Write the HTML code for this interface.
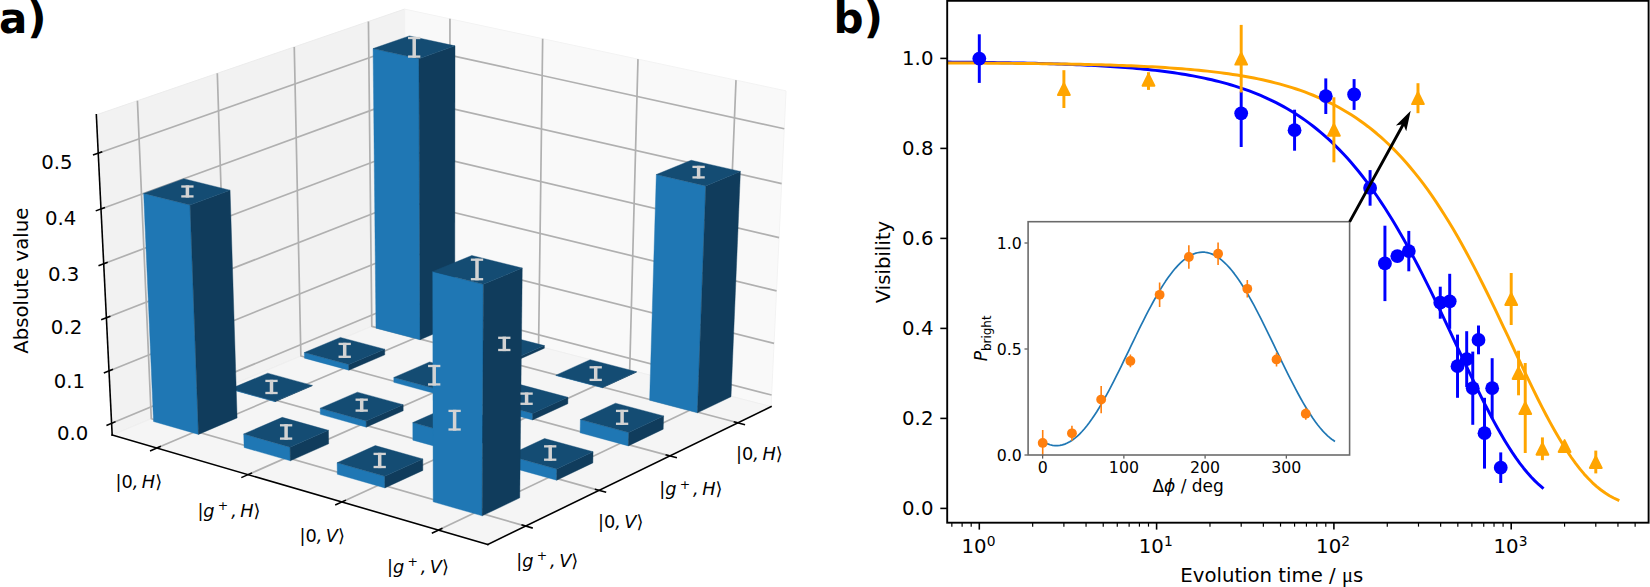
<!DOCTYPE html>
<html><head><meta charset="utf-8"><title>Figure</title>
<style>html,body{margin:0;padding:0;background:#fff}svg{display:block}text{font-family:"DejaVu Sans","Liberation Sans",sans-serif;fill:#000}</style>
</head><body>
<svg width="1650" height="587" viewBox="0 0 1650 587">
<rect width="1650" height="587" fill="#fff"/>
<g id="panel-a">
<polygon points="112.18,435.08 406.35,311.88 404.54,9.1 96.33,114.83" fill="#f2f2f2" stroke="#ececec" stroke-width="1" stroke-linejoin="round" />
<polygon points="406.35,311.88 771.05,406.63 786.07,90.88 404.54,9.1" fill="#f9f9f9" stroke="#f3f3f3" stroke-width="1" stroke-linejoin="round" />
<polygon points="112.18,435.08 487.87,544.47 771.05,406.63 406.35,311.88" fill="#f5f5f5" stroke="#efefef" stroke-width="1" stroke-linejoin="round" />
<polyline points="156.84,448.08 449.85,323.18 449.95,18.84" fill="none" stroke="#b0b0b0" stroke-width="1.7" stroke-linejoin="round"/>
<polyline points="248.05,474.64 538.58,346.24 542.67,38.71" fill="none" stroke="#b0b0b0" stroke-width="1.7" stroke-linejoin="round"/>
<polyline points="341.9,501.96 629.7,369.91 637.98,59.14" fill="none" stroke="#b0b0b0" stroke-width="1.7" stroke-linejoin="round"/>
<polyline points="438.5,530.09 723.29,394.22 736.01,80.15" fill="none" stroke="#b0b0b0" stroke-width="1.7" stroke-linejoin="round"/>
<polyline points="525.66,526.08 151.29,418.7 137.42,100.74" fill="none" stroke="#b0b0b0" stroke-width="1.7" stroke-linejoin="round"/>
<polyline points="599.08,490.34 227.42,386.82 217.31,73.33" fill="none" stroke="#b0b0b0" stroke-width="1.7" stroke-linejoin="round"/>
<polyline points="669.78,455.92 300.88,356.05 294.26,46.93" fill="none" stroke="#b0b0b0" stroke-width="1.7" stroke-linejoin="round"/>
<polyline points="737.91,422.76 371.8,326.35 368.44,21.48" fill="none" stroke="#b0b0b0" stroke-width="1.7" stroke-linejoin="round"/>
<polyline points="111.6,423.29 406.28,300.7 771.61,394.99" fill="none" stroke="#b0b0b0" stroke-width="1.7" stroke-linejoin="round"/>
<polyline points="109.01,370.95 405.99,251.09 774.06,343.35" fill="none" stroke="#b0b0b0" stroke-width="1.7" stroke-linejoin="round"/>
<polyline points="106.37,317.79 405.69,200.76 776.56,290.93" fill="none" stroke="#b0b0b0" stroke-width="1.7" stroke-linejoin="round"/>
<polyline points="103.7,263.8 405.38,149.7 779.09,237.69" fill="none" stroke="#b0b0b0" stroke-width="1.7" stroke-linejoin="round"/>
<polyline points="100.99,208.96 405.07,97.89 781.66,183.63" fill="none" stroke="#b0b0b0" stroke-width="1.7" stroke-linejoin="round"/>
<polyline points="98.23,153.24 404.76,45.31 784.27,128.72" fill="none" stroke="#b0b0b0" stroke-width="1.7" stroke-linejoin="round"/>
<line x1="112.18" y1="435.08" x2="487.87" y2="544.47" stroke="#000" stroke-width="1.58" stroke-linecap="square"/>
<line x1="487.87" y1="544.47" x2="771.05" y2="406.63" stroke="#000" stroke-width="1.58" stroke-linecap="square"/>
<line x1="112.18" y1="435.08" x2="96.33" y2="114.83" stroke="#000" stroke-width="1.58" stroke-linecap="square"/>
<line x1="150.03" y1="450.98" x2="160.88" y2="446.35" stroke="#000" stroke-width="1.58" />
<line x1="241.28" y1="477.63" x2="252.07" y2="472.86" stroke="#000" stroke-width="1.58" />
<line x1="335.18" y1="505.05" x2="345.9" y2="500.13" stroke="#000" stroke-width="1.58" />
<line x1="431.82" y1="533.28" x2="442.47" y2="528.2" stroke="#000" stroke-width="1.58" />
<line x1="532.77" y1="528.12" x2="521.43" y2="524.86" stroke="#000" stroke-width="1.58" />
<line x1="606.21" y1="492.32" x2="594.84" y2="489.16" stroke="#000" stroke-width="1.58" />
<line x1="676.93" y1="457.85" x2="665.54" y2="454.77" stroke="#000" stroke-width="1.58" />
<line x1="745.07" y1="424.64" x2="733.66" y2="421.64" stroke="#000" stroke-width="1.58" />
<line x1="106.43" y1="425.44" x2="115.57" y2="421.64" stroke="#000" stroke-width="1.58" />
<line x1="103.81" y1="373.04" x2="112.99" y2="369.34" stroke="#000" stroke-width="1.58" />
<line x1="101.16" y1="319.83" x2="110.38" y2="316.22" stroke="#000" stroke-width="1.58" />
<line x1="98.46" y1="265.78" x2="107.72" y2="262.28" stroke="#000" stroke-width="1.58" />
<line x1="95.73" y1="210.88" x2="105.02" y2="207.48" stroke="#000" stroke-width="1.58" />
<line x1="92.94" y1="155.1" x2="102.28" y2="151.81" stroke="#000" stroke-width="1.58" />
<g>
<polygon points="375.97,328.14 420.06,339.75 418.94,58.75 373.07,48.59" fill="#1f77b4" stroke="#1f77b4" stroke-width="0.4" stroke-linejoin="round" />
<polygon points="420.06,339.75 454.74,324.94 455.03,45.87 418.94,58.75" fill="#103c5c" stroke="#103c5c" stroke-width="0.4" stroke-linejoin="round" />
<polygon points="373.07,48.59 418.94,58.75 455.03,45.87 409.33,35.9" fill="#144c73" stroke="#144c73" stroke-width="0.4" stroke-linejoin="round" />
</g>
<g>
<polygon points="304.45,358.15 348.84,370.18 348.76,364.53 304.34,352.53" fill="#1f77b4" stroke="#1f77b4" stroke-width="0.4" stroke-linejoin="round" />
<polygon points="348.84,370.18 384.77,354.83 384.72,349.22 348.76,364.53" fill="#103c5c" stroke="#103c5c" stroke-width="0.4" stroke-linejoin="round" />
<polygon points="304.34,352.53 348.76,364.53 384.72,349.22 340.44,337.43" fill="#144c73" stroke="#144c73" stroke-width="0.4" stroke-linejoin="round" />
</g>
<g>
<polygon points="464.74,351.52 510.02,363.45 510.05,360.82 464.75,348.9" fill="#1f77b4" stroke="#1f77b4" stroke-width="0.4" stroke-linejoin="round" />
<polygon points="510.02,363.45 544.37,348.23 544.41,345.61 510.05,360.82" fill="#103c5c" stroke="#103c5c" stroke-width="0.4" stroke-linejoin="round" />
<polygon points="464.75,348.9 510.05,360.82 544.41,345.61 499.28,333.9" fill="#144c73" stroke="#144c73" stroke-width="0.4" stroke-linejoin="round" />
</g>
<g>
<polygon points="230.35,389.25 275.04,401.71 275.03,401.3 230.34,388.84" fill="#1f77b4" stroke="#1f77b4" stroke-width="0.4" stroke-linejoin="round" />
<polygon points="275.04,401.71 312.27,385.8 312.27,385.39 275.03,401.3" fill="#103c5c" stroke="#103c5c" stroke-width="0.4" stroke-linejoin="round" />
<polygon points="230.34,388.84 275.03,401.3 312.27,385.39 267.72,373.16" fill="#144c73" stroke="#144c73" stroke-width="0.4" stroke-linejoin="round" />
</g>
<g>
<polygon points="393.84,382.37 439.45,394.72 439.45,389.8 393.8,377.46" fill="#1f77b4" stroke="#1f77b4" stroke-width="0.4" stroke-linejoin="round" />
<polygon points="439.45,394.72 475.05,378.95 475.07,374.05 439.45,389.8" fill="#103c5c" stroke="#103c5c" stroke-width="0.4" stroke-linejoin="round" />
<polygon points="393.8,377.46 439.45,389.8 475.07,374.05 429.59,361.94" fill="#144c73" stroke="#144c73" stroke-width="0.4" stroke-linejoin="round" />
</g>
<g>
<polygon points="555.92,375.54 602.44,387.8 602.45,387.39 555.93,375.14" fill="#1f77b4" stroke="#1f77b4" stroke-width="0.4" stroke-linejoin="round" />
<polygon points="602.44,387.8 636.44,372.15 636.45,371.75 602.45,387.39" fill="#103c5c" stroke="#103c5c" stroke-width="0.4" stroke-linejoin="round" />
<polygon points="555.93,375.14 602.45,387.39 636.45,371.75 590.1,359.71" fill="#144c73" stroke="#144c73" stroke-width="0.4" stroke-linejoin="round" />
</g>
<g>
<polygon points="153.53,421.49 198.5,434.41 190.07,205.08 143.65,193.38" fill="#1f77b4" stroke="#1f77b4" stroke-width="0.4" stroke-linejoin="round" />
<polygon points="198.5,434.41 237.12,417.91 230.07,190.2 190.07,205.08" fill="#103c5c" stroke="#103c5c" stroke-width="0.4" stroke-linejoin="round" />
<polygon points="143.65,193.38 190.07,205.08 230.07,190.2 183.79,178.72" fill="#144c73" stroke="#144c73" stroke-width="0.4" stroke-linejoin="round" />
</g>
<g>
<polygon points="320.35,414.34 366.29,427.15 366.21,420.99 320.23,408.22" fill="#1f77b4" stroke="#1f77b4" stroke-width="0.4" stroke-linejoin="round" />
<polygon points="366.29,427.15 403.2,410.79 403.16,404.67 366.21,420.99" fill="#103c5c" stroke="#103c5c" stroke-width="0.4" stroke-linejoin="round" />
<polygon points="320.23,408.22 366.21,420.99 403.16,404.67 357.35,392.13" fill="#144c73" stroke="#144c73" stroke-width="0.4" stroke-linejoin="round" />
</g>
<g>
<polygon points="485.7,407.25 532.59,419.95 532.67,413.45 485.74,400.78" fill="#1f77b4" stroke="#1f77b4" stroke-width="0.4" stroke-linejoin="round" />
<polygon points="532.59,419.95 567.83,403.73 567.95,397.27 532.67,413.45" fill="#103c5c" stroke="#103c5c" stroke-width="0.4" stroke-linejoin="round" />
<polygon points="485.74,400.78 532.67,413.45 567.95,397.27 521.2,384.83" fill="#144c73" stroke="#144c73" stroke-width="0.4" stroke-linejoin="round" />
</g>
<g>
<polygon points="649.61,400.22 697.43,412.82 705.77,185.91 656.31,174.51" fill="#1f77b4" stroke="#1f77b4" stroke-width="0.4" stroke-linejoin="round" />
<polygon points="697.43,412.82 731.03,396.73 740.41,171.41 705.77,185.91" fill="#103c5c" stroke="#103c5c" stroke-width="0.4" stroke-linejoin="round" />
<polygon points="656.31,174.51 705.77,185.91 740.41,171.41 691.16,160.22" fill="#144c73" stroke="#144c73" stroke-width="0.4" stroke-linejoin="round" />
</g>
<g>
<polygon points="244.11,447.5 290.37,460.79 290.06,447.21 243.71,433.99" fill="#1f77b4" stroke="#1f77b4" stroke-width="0.4" stroke-linejoin="round" />
<polygon points="290.37,460.79 328.68,443.81 328.45,430.32 290.06,447.21" fill="#103c5c" stroke="#103c5c" stroke-width="0.4" stroke-linejoin="round" />
<polygon points="243.71,433.99 290.06,447.21 328.45,430.32 282.26,417.35" fill="#144c73" stroke="#144c73" stroke-width="0.4" stroke-linejoin="round" />
</g>
<g>
<polygon points="412.87,440.13 460.12,453.31 460.15,435.68 412.78,422.6" fill="#1f77b4" stroke="#1f77b4" stroke-width="0.4" stroke-linejoin="round" />
<polygon points="460.12,453.31 496.69,436.47 496.82,418.97 460.15,435.68" fill="#103c5c" stroke="#103c5c" stroke-width="0.4" stroke-linejoin="round" />
<polygon points="412.78,422.6 460.15,435.68 496.82,418.97 449.63,406.13" fill="#144c73" stroke="#144c73" stroke-width="0.4" stroke-linejoin="round" />
</g>
<g>
<polygon points="580.13,432.83 628.35,445.89 628.71,432.55 580.39,419.55" fill="#1f77b4" stroke="#1f77b4" stroke-width="0.4" stroke-linejoin="round" />
<polygon points="628.35,445.89 663.21,429.2 663.63,415.95 628.71,432.55" fill="#103c5c" stroke="#103c5c" stroke-width="0.4" stroke-linejoin="round" />
<polygon points="580.39,419.55 628.71,432.55 663.63,415.95 615.52,403.19" fill="#144c73" stroke="#144c73" stroke-width="0.4" stroke-linejoin="round" />
</g>
<g>
<polygon points="337.3,474.26 384.9,487.93 384.79,476.34 337.11,462.73" fill="#1f77b4" stroke="#1f77b4" stroke-width="0.4" stroke-linejoin="round" />
<polygon points="384.9,487.93 422.86,470.46 422.82,458.95 384.79,476.34" fill="#103c5c" stroke="#103c5c" stroke-width="0.4" stroke-linejoin="round" />
<polygon points="337.11,462.73 384.79,476.34 422.82,458.95 375.32,445.59" fill="#144c73" stroke="#144c73" stroke-width="0.4" stroke-linejoin="round" />
</g>
<g>
<polygon points="508.05,466.67 556.66,480.22 556.84,468.99 508.15,455.5" fill="#1f77b4" stroke="#1f77b4" stroke-width="0.4" stroke-linejoin="round" />
<polygon points="556.66,480.22 592.84,462.9 593.08,451.74 556.84,468.99" fill="#103c5c" stroke="#103c5c" stroke-width="0.4" stroke-linejoin="round" />
<polygon points="508.15,455.5 556.84,468.99 593.08,451.74 544.58,438.5" fill="#144c73" stroke="#144c73" stroke-width="0.4" stroke-linejoin="round" />
</g>
<g>
<polygon points="433.19,501.8 482.19,515.87 483.39,284.36 432.7,271.55" fill="#1f77b4" stroke="#1f77b4" stroke-width="0.4" stroke-linejoin="round" />
<polygon points="482.19,515.87 519.78,497.87 522.26,268.03 483.39,284.36" fill="#103c5c" stroke="#103c5c" stroke-width="0.4" stroke-linejoin="round" />
<polygon points="432.7,271.55 483.39,284.36 522.26,268.03 471.77,255.47" fill="#144c73" stroke="#144c73" stroke-width="0.4" stroke-linejoin="round" />
</g>
<line x1="414.2" y1="36.9" x2="414.2" y2="57.7" stroke="#d3d3d3" stroke-width="3.5" />
<line x1="408.05" y1="38" x2="420.35" y2="38" stroke="#d3d3d3" stroke-width="2.3" />
<line x1="408.05" y1="56.6" x2="420.35" y2="56.6" stroke="#d3d3d3" stroke-width="2.3" />
<line x1="344.7" y1="342.8" x2="344.7" y2="357.9" stroke="#d3d3d3" stroke-width="3.5" />
<line x1="338.55" y1="343.9" x2="350.85" y2="343.9" stroke="#d3d3d3" stroke-width="2.3" />
<line x1="338.55" y1="356.8" x2="350.85" y2="356.8" stroke="#d3d3d3" stroke-width="2.3" />
<line x1="504.3" y1="336.7" x2="504.3" y2="351.1" stroke="#d3d3d3" stroke-width="3.5" />
<line x1="498.15" y1="337.8" x2="510.45" y2="337.8" stroke="#d3d3d3" stroke-width="2.3" />
<line x1="498.15" y1="350" x2="510.45" y2="350" stroke="#d3d3d3" stroke-width="2.3" />
<line x1="271.5" y1="379.8" x2="271.5" y2="394.1" stroke="#d3d3d3" stroke-width="3.5" />
<line x1="265.35" y1="380.9" x2="277.65" y2="380.9" stroke="#d3d3d3" stroke-width="2.3" />
<line x1="265.35" y1="393" x2="277.65" y2="393" stroke="#d3d3d3" stroke-width="2.3" />
<line x1="434.2" y1="364.9" x2="434.2" y2="385.5" stroke="#d3d3d3" stroke-width="3.5" />
<line x1="428.05" y1="366" x2="440.35" y2="366" stroke="#d3d3d3" stroke-width="2.3" />
<line x1="428.05" y1="384.4" x2="440.35" y2="384.4" stroke="#d3d3d3" stroke-width="2.3" />
<line x1="595.7" y1="366.2" x2="595.7" y2="381" stroke="#d3d3d3" stroke-width="3.5" />
<line x1="589.55" y1="367.3" x2="601.85" y2="367.3" stroke="#d3d3d3" stroke-width="2.3" />
<line x1="589.55" y1="379.9" x2="601.85" y2="379.9" stroke="#d3d3d3" stroke-width="2.3" />
<line x1="187.4" y1="185.4" x2="187.4" y2="197.5" stroke="#d3d3d3" stroke-width="3.5" />
<line x1="181.25" y1="186.5" x2="193.55" y2="186.5" stroke="#d3d3d3" stroke-width="2.3" />
<line x1="181.25" y1="196.4" x2="193.55" y2="196.4" stroke="#d3d3d3" stroke-width="2.3" />
<line x1="361.7" y1="398.6" x2="361.7" y2="411.7" stroke="#d3d3d3" stroke-width="3.5" />
<line x1="355.55" y1="399.7" x2="367.85" y2="399.7" stroke="#d3d3d3" stroke-width="2.3" />
<line x1="355.55" y1="410.6" x2="367.85" y2="410.6" stroke="#d3d3d3" stroke-width="2.3" />
<line x1="526.6" y1="392.5" x2="526.6" y2="404.9" stroke="#d3d3d3" stroke-width="3.5" />
<line x1="520.45" y1="393.6" x2="532.75" y2="393.6" stroke="#d3d3d3" stroke-width="2.3" />
<line x1="520.45" y1="403.8" x2="532.75" y2="403.8" stroke="#d3d3d3" stroke-width="2.3" />
<line x1="698.6" y1="165.8" x2="698.6" y2="178.5" stroke="#d3d3d3" stroke-width="3.5" />
<line x1="692.45" y1="166.9" x2="704.75" y2="166.9" stroke="#d3d3d3" stroke-width="2.3" />
<line x1="692.45" y1="177.4" x2="704.75" y2="177.4" stroke="#d3d3d3" stroke-width="2.3" />
<line x1="286.1" y1="424.2" x2="286.1" y2="439.7" stroke="#d3d3d3" stroke-width="3.5" />
<line x1="279.95" y1="425.3" x2="292.25" y2="425.3" stroke="#d3d3d3" stroke-width="2.3" />
<line x1="279.95" y1="438.6" x2="292.25" y2="438.6" stroke="#d3d3d3" stroke-width="2.3" />
<line x1="454.6" y1="409.8" x2="454.6" y2="430.6" stroke="#d3d3d3" stroke-width="3.5" />
<line x1="448.45" y1="410.9" x2="460.75" y2="410.9" stroke="#d3d3d3" stroke-width="2.3" />
<line x1="448.45" y1="429.5" x2="460.75" y2="429.5" stroke="#d3d3d3" stroke-width="2.3" />
<line x1="622.1" y1="409.8" x2="622.1" y2="424.9" stroke="#d3d3d3" stroke-width="3.5" />
<line x1="615.95" y1="410.9" x2="628.25" y2="410.9" stroke="#d3d3d3" stroke-width="2.3" />
<line x1="615.95" y1="423.8" x2="628.25" y2="423.8" stroke="#d3d3d3" stroke-width="2.3" />
<line x1="379.7" y1="452.8" x2="379.7" y2="468.1" stroke="#d3d3d3" stroke-width="3.5" />
<line x1="373.55" y1="453.9" x2="385.85" y2="453.9" stroke="#d3d3d3" stroke-width="2.3" />
<line x1="373.55" y1="467" x2="385.85" y2="467" stroke="#d3d3d3" stroke-width="2.3" />
<line x1="550.2" y1="445.25" x2="550.2" y2="460.8" stroke="#d3d3d3" stroke-width="3.5" />
<line x1="544.05" y1="446.35" x2="556.35" y2="446.35" stroke="#d3d3d3" stroke-width="2.3" />
<line x1="544.05" y1="459.7" x2="556.35" y2="459.7" stroke="#d3d3d3" stroke-width="2.3" />
<line x1="477" y1="258.6" x2="477" y2="280.3" stroke="#d3d3d3" stroke-width="3.5" />
<line x1="470.85" y1="259.7" x2="483.15" y2="259.7" stroke="#d3d3d3" stroke-width="2.3" />
<line x1="470.85" y1="279.2" x2="483.15" y2="279.2" stroke="#d3d3d3" stroke-width="2.3" />
<text font-size="17.73" ><tspan x="115.5" y="487.6">|</tspan><tspan x="121.47" y="487.6">0</tspan><tspan x="132.75" y="487.6" font-style="italic">,</tspan><tspan x="141.84" y="487.6" font-style="italic">H</tspan><tspan x="155.18" y="487.6">⟩</tspan></text>
<text font-size="17.73" ><tspan x="197.4" y="516.5">|</tspan><tspan x="203.37" y="516.5" font-style="italic">g</tspan><tspan x="217.87" y="509.71" font-size="12.41">+</tspan><tspan x="231.17" y="516.5" font-style="italic">,</tspan><tspan x="240.26" y="516.5" font-style="italic">H</tspan><tspan x="253.59" y="516.5">⟩</tspan></text>
<text font-size="17.73" ><tspan x="299.5" y="541.8">|</tspan><tspan x="305.47" y="541.8">0</tspan><tspan x="316.75" y="541.8" font-style="italic">,</tspan><tspan x="325.84" y="541.8" font-style="italic">V</tspan><tspan x="337.97" y="541.8">⟩</tspan></text>
<text font-size="17.73" ><tspan x="387" y="572.9">|</tspan><tspan x="392.97" y="572.9" font-style="italic">g</tspan><tspan x="407.47" y="566.11" font-size="12.41">+</tspan><tspan x="420.77" y="572.9" font-style="italic">,</tspan><tspan x="429.86" y="572.9" font-style="italic">V</tspan><tspan x="441.99" y="572.9">⟩</tspan></text>
<text font-size="17.73" ><tspan x="516.3" y="567">|</tspan><tspan x="522.27" y="567" font-style="italic">g</tspan><tspan x="536.77" y="560.21" font-size="12.41">+</tspan><tspan x="550.07" y="567" font-style="italic">,</tspan><tspan x="559.16" y="567" font-style="italic">V</tspan><tspan x="571.29" y="567">⟩</tspan></text>
<text font-size="17.73" ><tspan x="598" y="528.1">|</tspan><tspan x="603.97" y="528.1">0</tspan><tspan x="615.25" y="528.1" font-style="italic">,</tspan><tspan x="624.34" y="528.1" font-style="italic">V</tspan><tspan x="636.47" y="528.1">⟩</tspan></text>
<text font-size="17.73" ><tspan x="659.3" y="495.3">|</tspan><tspan x="665.27" y="495.3" font-style="italic">g</tspan><tspan x="679.77" y="488.51" font-size="12.41">+</tspan><tspan x="693.07" y="495.3" font-style="italic">,</tspan><tspan x="702.16" y="495.3" font-style="italic">H</tspan><tspan x="715.49" y="495.3">⟩</tspan></text>
<text font-size="17.73" ><tspan x="736.1" y="460.1">|</tspan><tspan x="742.07" y="460.1">0</tspan><tspan x="753.35" y="460.1" font-style="italic">,</tspan><tspan x="762.44" y="460.1" font-style="italic">H</tspan><tspan x="775.78" y="460.1">⟩</tspan></text>
<text x="88.28" y="439.9" font-size="19.7" text-anchor="end" >0.0</text>
<text x="85.08" y="387.9" font-size="19.7" text-anchor="end" >0.1</text>
<text x="82.18" y="334.2" font-size="19.7" text-anchor="end" >0.2</text>
<text x="79.28" y="280.5" font-size="19.7" text-anchor="end" >0.3</text>
<text x="76.28" y="224.7" font-size="19.7" text-anchor="end" >0.4</text>
<text x="72.53" y="169" font-size="19.7" text-anchor="end" >0.5</text>
<text transform="translate(28.1,280.7) rotate(-90)" font-size="19.7" text-anchor="middle">Absolute value</text>
<text x="-1.1" y="33.4" font-size="42" font-weight="bold">a)</text>
</g>
<g id="panel-b">
<clipPath id="cb"><rect x="947.2" y="0.8" width="701.4" height="521.9"/></clipPath>
<polyline points="944.94,62.05 948.69,62.08 952.45,62.11 956.21,62.14 959.97,62.17 963.72,62.21 967.48,62.24 971.24,62.28 975,62.33 978.76,62.37 982.51,62.41 986.27,62.46 990.03,62.51 993.79,62.56 997.54,62.62 1001.3,62.68 1005.06,62.74 1008.82,62.8 1012.58,62.87 1016.33,62.94 1020.09,63.01 1023.85,63.09 1027.61,63.17 1031.36,63.26 1035.12,63.35 1038.88,63.44 1042.64,63.54 1046.4,63.64 1050.15,63.75 1053.91,63.87 1057.67,63.99 1061.43,64.11 1065.18,64.25 1068.94,64.38 1072.7,64.53 1076.46,64.68 1080.22,64.84 1083.97,65.01 1087.73,65.19 1091.49,65.37 1095.25,65.57 1099,65.77 1102.76,65.99 1106.52,66.21 1110.28,66.45 1114.04,66.7 1117.79,66.96 1121.55,67.23 1125.31,67.52 1129.07,67.82 1132.82,68.14 1136.58,68.47 1140.34,68.81 1144.1,69.18 1147.86,69.56 1151.61,69.96 1155.37,70.38 1159.13,70.82 1162.89,71.29 1166.64,71.77 1170.4,72.28 1174.16,72.82 1177.92,73.38 1181.68,73.97 1185.43,74.58 1189.19,75.23 1192.95,75.91 1196.71,76.62 1200.46,77.36 1204.22,78.14 1207.98,78.96 1211.74,79.81 1215.5,80.71 1219.25,81.65 1223.01,82.64 1226.77,83.67 1230.53,84.75 1234.28,85.88 1238.04,87.07 1241.8,88.31 1245.56,89.61 1249.31,90.97 1253.07,92.4 1256.83,93.89 1260.59,95.44 1264.35,97.07 1268.1,98.78 1271.86,100.56 1275.62,102.42 1279.38,104.37 1283.13,106.41 1286.89,108.53 1290.65,110.75 1294.41,113.07 1298.17,115.49 1301.92,118.01 1305.68,120.64 1309.44,123.39 1313.2,126.25 1316.95,129.23 1320.71,132.34 1324.47,135.57 1328.23,138.93 1331.99,142.44 1335.74,146.08 1339.5,149.86 1343.26,153.79 1347.02,157.87 1350.77,162.1 1354.53,166.49 1358.29,171.04 1362.05,175.76 1365.81,180.63 1369.56,185.68 1373.32,190.89 1377.08,196.27 1380.84,201.83 1384.59,207.55 1388.35,213.45 1392.11,219.52 1395.87,225.76 1399.63,232.16 1403.38,238.73 1407.14,245.46 1410.9,252.34 1414.66,259.38 1418.41,266.55 1422.17,273.87 1425.93,281.31 1429.69,288.87 1433.45,296.54 1437.2,304.31 1440.96,312.15 1444.72,320.07 1448.48,328.03 1452.23,336.03 1455.99,344.06 1459.75,352.08 1463.51,360.08 1467.27,368.04 1471.02,375.94 1474.78,383.75 1478.54,391.47 1482.3,399.05 1486.05,406.48 1489.81,413.75 1493.57,420.82 1497.33,427.67 1501.09,434.29 1504.84,440.66 1508.6,446.76 1512.36,452.58 1516.12,458.09 1519.87,463.3 1523.63,468.19 1527.39,472.75 1531.15,476.99 1534.91,480.89 1538.66,484.47 1542.42,487.73" fill="none" stroke="#0000ff" stroke-width="2.96" clip-path="url(#cb)" stroke-linecap="square" stroke-linejoin="round"/>
<polyline points="944.94,62.96 949.17,62.97 953.4,62.99 957.63,63.01 961.87,63.03 966.1,63.05 970.33,63.07 974.57,63.09 978.8,63.11 983.03,63.14 987.26,63.17 991.5,63.19 995.73,63.22 999.96,63.25 1004.19,63.29 1008.43,63.32 1012.66,63.36 1016.89,63.4 1021.13,63.44 1025.36,63.48 1029.59,63.52 1033.82,63.57 1038.06,63.62 1042.29,63.68 1046.52,63.73 1050.75,63.79 1054.99,63.86 1059.22,63.92 1063.45,63.99 1067.69,64.07 1071.92,64.15 1076.15,64.23 1080.38,64.32 1084.62,64.41 1088.85,64.51 1093.08,64.61 1097.32,64.72 1101.55,64.84 1105.78,64.96 1110.01,65.09 1114.25,65.22 1118.48,65.36 1122.71,65.52 1126.94,65.68 1131.18,65.85 1135.41,66.02 1139.64,66.21 1143.88,66.41 1148.11,66.62 1152.34,66.84 1156.57,67.08 1160.81,67.33 1165.04,67.59 1169.27,67.86 1173.5,68.15 1177.74,68.46 1181.97,68.79 1186.2,69.13 1190.44,69.49 1194.67,69.87 1198.9,70.28 1203.13,70.7 1207.37,71.15 1211.6,71.63 1215.83,72.13 1220.07,72.65 1224.3,73.21 1228.53,73.8 1232.76,74.42 1237,75.07 1241.23,75.76 1245.46,76.49 1249.69,77.26 1253.93,78.07 1258.16,78.92 1262.39,79.82 1266.63,80.77 1270.86,81.77 1275.09,82.83 1279.32,83.94 1283.56,85.11 1287.79,86.34 1292.02,87.64 1296.26,89.01 1300.49,90.45 1304.72,91.97 1308.95,93.57 1313.19,95.25 1317.42,97.01 1321.65,98.87 1325.88,100.83 1330.12,102.88 1334.35,105.05 1338.58,107.32 1342.82,109.7 1347.05,112.2 1351.28,114.83 1355.51,117.59 1359.75,120.48 1363.98,123.52 1368.21,126.7 1372.44,130.03 1376.68,133.51 1380.91,137.16 1385.14,140.98 1389.38,144.97 1393.61,149.14 1397.84,153.49 1402.07,158.03 1406.31,162.76 1410.54,167.69 1414.77,172.83 1419.01,178.17 1423.24,183.72 1427.47,189.48 1431.7,195.45 1435.94,201.65 1440.17,208.06 1444.4,214.68 1448.63,221.52 1452.87,228.58 1457.1,235.84 1461.33,243.32 1465.57,250.99 1469.8,258.85 1474.03,266.9 1478.26,275.12 1482.5,283.5 1486.73,292.03 1490.96,300.68 1495.2,309.46 1499.43,318.32 1503.66,327.26 1507.89,336.24 1512.13,345.26 1516.36,354.26 1520.59,363.24 1524.82,372.16 1529.06,380.98 1533.29,389.69 1537.52,398.24 1541.76,406.61 1545.99,414.76 1550.22,422.66 1554.45,430.29 1558.69,437.61 1562.92,444.6 1567.15,451.23 1571.38,457.5 1575.62,463.37 1579.85,468.84 1584.08,473.9 1588.32,478.55 1592.55,482.78 1596.78,486.6 1601.01,490.01 1605.25,493.05 1609.48,495.71 1613.71,498.02 1617.95,500.01" fill="none" stroke="#ffa500" stroke-width="2.96" clip-path="url(#cb)" stroke-linecap="square" stroke-linejoin="round"/>
<line x1="979.3" y1="34.3" x2="979.3" y2="82.9" stroke="#0000ff" stroke-width="2.96" />
<line x1="1241.19" y1="91.5" x2="1241.19" y2="147" stroke="#0000ff" stroke-width="2.96" />
<line x1="1294.57" y1="109.7" x2="1294.57" y2="150.7" stroke="#0000ff" stroke-width="2.96" />
<line x1="1325.79" y1="78.4" x2="1325.79" y2="114" stroke="#0000ff" stroke-width="2.96" />
<line x1="1354.1" y1="79.1" x2="1354.1" y2="109.9" stroke="#0000ff" stroke-width="2.96" />
<line x1="1370.09" y1="170.1" x2="1370.09" y2="205.7" stroke="#0000ff" stroke-width="2.96" />
<line x1="1384.93" y1="225.7" x2="1384.93" y2="301.1" stroke="#0000ff" stroke-width="2.96" />
<line x1="1397.36" y1="253.2" x2="1397.36" y2="259.2" stroke="#0000ff" stroke-width="2.96" />
<line x1="1408.8" y1="230.9" x2="1408.8" y2="271.3" stroke="#0000ff" stroke-width="2.96" />
<line x1="1440.26" y1="286.7" x2="1440.26" y2="318.7" stroke="#0000ff" stroke-width="2.96" />
<line x1="1449.71" y1="273.8" x2="1449.71" y2="328.8" stroke="#0000ff" stroke-width="2.96" />
<line x1="1457.52" y1="334.6" x2="1457.52" y2="397.8" stroke="#0000ff" stroke-width="2.96" />
<line x1="1466.69" y1="331.2" x2="1466.69" y2="387.2" stroke="#0000ff" stroke-width="2.96" />
<line x1="1472.76" y1="351.6" x2="1472.76" y2="424.8" stroke="#0000ff" stroke-width="2.96" />
<line x1="1478.5" y1="325.5" x2="1478.5" y2="354.3" stroke="#0000ff" stroke-width="2.96" />
<line x1="1484.5" y1="397.8" x2="1484.5" y2="468.6" stroke="#0000ff" stroke-width="2.96" />
<line x1="1492.17" y1="358.2" x2="1492.17" y2="418.2" stroke="#0000ff" stroke-width="2.96" />
<line x1="1500.74" y1="452.4" x2="1500.74" y2="483" stroke="#0000ff" stroke-width="2.96" />
<circle cx="979.3" cy="58.6" r="6.9" fill="#0000ff"/>
<circle cx="1241.19" cy="113.3" r="6.9" fill="#0000ff"/>
<circle cx="1294.57" cy="130.2" r="6.9" fill="#0000ff"/>
<circle cx="1325.79" cy="96.2" r="6.9" fill="#0000ff"/>
<circle cx="1354.1" cy="94.5" r="6.9" fill="#0000ff"/>
<circle cx="1370.09" cy="187.9" r="6.9" fill="#0000ff"/>
<circle cx="1384.93" cy="263.4" r="6.9" fill="#0000ff"/>
<circle cx="1397.36" cy="256.2" r="6.9" fill="#0000ff"/>
<circle cx="1408.8" cy="251.1" r="6.9" fill="#0000ff"/>
<circle cx="1440.26" cy="302.7" r="6.9" fill="#0000ff"/>
<circle cx="1449.71" cy="301.3" r="6.9" fill="#0000ff"/>
<circle cx="1457.52" cy="366.2" r="6.9" fill="#0000ff"/>
<circle cx="1466.69" cy="359.2" r="6.9" fill="#0000ff"/>
<circle cx="1472.76" cy="388.2" r="6.9" fill="#0000ff"/>
<circle cx="1478.5" cy="339.9" r="6.9" fill="#0000ff"/>
<circle cx="1484.5" cy="433.2" r="6.9" fill="#0000ff"/>
<circle cx="1492.17" cy="388.2" r="6.9" fill="#0000ff"/>
<circle cx="1500.74" cy="467.7" r="6.9" fill="#0000ff"/>
<line x1="1063.89" y1="70.2" x2="1063.89" y2="108" stroke="#ffa500" stroke-width="2.96" />
<line x1="1148.49" y1="72.2" x2="1148.49" y2="89.9" stroke="#ffa500" stroke-width="2.96" />
<line x1="1241.19" y1="24.9" x2="1241.19" y2="92.5" stroke="#ffa500" stroke-width="2.96" />
<line x1="1333.9" y1="97.3" x2="1333.9" y2="162.3" stroke="#ffa500" stroke-width="2.96" />
<line x1="1417.98" y1="83.2" x2="1417.98" y2="113.2" stroke="#ffa500" stroke-width="2.96" />
<line x1="1511.2" y1="273" x2="1511.2" y2="325" stroke="#ffa500" stroke-width="2.96" />
<line x1="1518.54" y1="350.7" x2="1518.54" y2="395.3" stroke="#ffa500" stroke-width="2.96" />
<line x1="1525.24" y1="363" x2="1525.24" y2="453" stroke="#ffa500" stroke-width="2.96" />
<line x1="1542.42" y1="437.4" x2="1542.42" y2="460.2" stroke="#ffa500" stroke-width="2.96" />
<line x1="1564.57" y1="443" x2="1564.57" y2="449" stroke="#ffa500" stroke-width="2.96" />
<line x1="1595.79" y1="450.6" x2="1595.79" y2="473.4" stroke="#ffa500" stroke-width="2.96" />
<polygon points="1063.89,83.19 1057.98,95.01 1069.8,95.01" fill="#ffa500" stroke="#ffa500" stroke-width="1.97" stroke-linejoin="round" stroke-linejoin="miter"/>
<polygon points="1148.49,73.99 1142.58,85.81 1154.4,85.81" fill="#ffa500" stroke="#ffa500" stroke-width="1.97" stroke-linejoin="round" stroke-linejoin="miter"/>
<polygon points="1241.19,52.79 1235.28,64.61 1247.1,64.61" fill="#ffa500" stroke="#ffa500" stroke-width="1.97" stroke-linejoin="round" stroke-linejoin="miter"/>
<polygon points="1333.9,123.89 1327.99,135.71 1339.81,135.71" fill="#ffa500" stroke="#ffa500" stroke-width="1.97" stroke-linejoin="round" stroke-linejoin="miter"/>
<polygon points="1417.98,92.29 1412.07,104.11 1423.89,104.11" fill="#ffa500" stroke="#ffa500" stroke-width="1.97" stroke-linejoin="round" stroke-linejoin="miter"/>
<polygon points="1511.2,293.09 1505.29,304.91 1517.11,304.91" fill="#ffa500" stroke="#ffa500" stroke-width="1.97" stroke-linejoin="round" stroke-linejoin="miter"/>
<polygon points="1518.54,367.09 1512.63,378.91 1524.45,378.91" fill="#ffa500" stroke="#ffa500" stroke-width="1.97" stroke-linejoin="round" stroke-linejoin="miter"/>
<polygon points="1525.24,402.09 1519.33,413.91 1531.15,413.91" fill="#ffa500" stroke="#ffa500" stroke-width="1.97" stroke-linejoin="round" stroke-linejoin="miter"/>
<polygon points="1542.42,442.89 1536.51,454.71 1548.33,454.71" fill="#ffa500" stroke="#ffa500" stroke-width="1.97" stroke-linejoin="round" stroke-linejoin="miter"/>
<polygon points="1564.57,440.09 1558.66,451.91 1570.48,451.91" fill="#ffa500" stroke="#ffa500" stroke-width="1.97" stroke-linejoin="round" stroke-linejoin="miter"/>
<polygon points="1595.79,456.09 1589.88,467.91 1601.7,467.91" fill="#ffa500" stroke="#ffa500" stroke-width="1.97" stroke-linejoin="round" stroke-linejoin="miter"/>
<rect x="947.2" y="0.8" width="701.4" height="521.9" fill="none" stroke="#000" stroke-width="1.9"/>
<line x1="940.31" y1="508.4" x2="947.2" y2="508.4" stroke="#000" stroke-width="1.58" />
<text x="933.41" y="515.3" font-size="19.7" text-anchor="end" >0.0</text>
<line x1="940.31" y1="418.4" x2="947.2" y2="418.4" stroke="#000" stroke-width="1.58" />
<text x="933.41" y="425.3" font-size="19.7" text-anchor="end" >0.2</text>
<line x1="940.31" y1="328.4" x2="947.2" y2="328.4" stroke="#000" stroke-width="1.58" />
<text x="933.41" y="335.3" font-size="19.7" text-anchor="end" >0.4</text>
<line x1="940.31" y1="238.4" x2="947.2" y2="238.4" stroke="#000" stroke-width="1.58" />
<text x="933.41" y="245.3" font-size="19.7" text-anchor="end" >0.6</text>
<line x1="940.31" y1="148.4" x2="947.2" y2="148.4" stroke="#000" stroke-width="1.58" />
<text x="933.41" y="155.3" font-size="19.7" text-anchor="end" >0.8</text>
<line x1="940.31" y1="58.4" x2="947.2" y2="58.4" stroke="#000" stroke-width="1.58" />
<text x="933.41" y="65.3" font-size="19.7" text-anchor="end" >1.0</text>
<line x1="979.3" y1="522.7" x2="979.3" y2="529.6" stroke="#000" stroke-width="1.58" />
<text font-size="19.7" ><tspan x="961.5" y="553.2">1</tspan><tspan x="974.03" y="553.2">0</tspan><tspan x="986.76" y="545.66" font-size="13.79">0</tspan></text>
<line x1="1156.6" y1="522.7" x2="1156.6" y2="529.6" stroke="#000" stroke-width="1.58" />
<text font-size="19.7" ><tspan x="1138.8" y="553.2">1</tspan><tspan x="1151.33" y="553.2">0</tspan><tspan x="1164.06" y="545.66" font-size="13.79">1</tspan></text>
<line x1="1333.9" y1="522.7" x2="1333.9" y2="529.6" stroke="#000" stroke-width="1.58" />
<text font-size="19.7" ><tspan x="1316.1" y="553.2">1</tspan><tspan x="1328.63" y="553.2">0</tspan><tspan x="1341.36" y="545.66" font-size="13.79">2</tspan></text>
<line x1="1511.2" y1="522.7" x2="1511.2" y2="529.6" stroke="#000" stroke-width="1.58" />
<text font-size="19.7" ><tspan x="1493.4" y="553.2">1</tspan><tspan x="1505.93" y="553.2">0</tspan><tspan x="1518.66" y="545.66" font-size="13.79">3</tspan></text>
<line x1="951.84" y1="522.7" x2="951.84" y2="526.64" stroke="#000" stroke-width="1.18" />
<line x1="962.12" y1="522.7" x2="962.12" y2="526.64" stroke="#000" stroke-width="1.18" />
<line x1="971.19" y1="522.7" x2="971.19" y2="526.64" stroke="#000" stroke-width="1.18" />
<line x1="1032.67" y1="522.7" x2="1032.67" y2="526.64" stroke="#000" stroke-width="1.18" />
<line x1="1063.89" y1="522.7" x2="1063.89" y2="526.64" stroke="#000" stroke-width="1.18" />
<line x1="1086.05" y1="522.7" x2="1086.05" y2="526.64" stroke="#000" stroke-width="1.18" />
<line x1="1103.23" y1="522.7" x2="1103.23" y2="526.64" stroke="#000" stroke-width="1.18" />
<line x1="1117.27" y1="522.7" x2="1117.27" y2="526.64" stroke="#000" stroke-width="1.18" />
<line x1="1129.14" y1="522.7" x2="1129.14" y2="526.64" stroke="#000" stroke-width="1.18" />
<line x1="1139.42" y1="522.7" x2="1139.42" y2="526.64" stroke="#000" stroke-width="1.18" />
<line x1="1148.49" y1="522.7" x2="1148.49" y2="526.64" stroke="#000" stroke-width="1.18" />
<line x1="1209.97" y1="522.7" x2="1209.97" y2="526.64" stroke="#000" stroke-width="1.18" />
<line x1="1241.19" y1="522.7" x2="1241.19" y2="526.64" stroke="#000" stroke-width="1.18" />
<line x1="1263.35" y1="522.7" x2="1263.35" y2="526.64" stroke="#000" stroke-width="1.18" />
<line x1="1280.53" y1="522.7" x2="1280.53" y2="526.64" stroke="#000" stroke-width="1.18" />
<line x1="1294.57" y1="522.7" x2="1294.57" y2="526.64" stroke="#000" stroke-width="1.18" />
<line x1="1306.44" y1="522.7" x2="1306.44" y2="526.64" stroke="#000" stroke-width="1.18" />
<line x1="1316.72" y1="522.7" x2="1316.72" y2="526.64" stroke="#000" stroke-width="1.18" />
<line x1="1325.79" y1="522.7" x2="1325.79" y2="526.64" stroke="#000" stroke-width="1.18" />
<line x1="1387.27" y1="522.7" x2="1387.27" y2="526.64" stroke="#000" stroke-width="1.18" />
<line x1="1418.49" y1="522.7" x2="1418.49" y2="526.64" stroke="#000" stroke-width="1.18" />
<line x1="1440.65" y1="522.7" x2="1440.65" y2="526.64" stroke="#000" stroke-width="1.18" />
<line x1="1457.83" y1="522.7" x2="1457.83" y2="526.64" stroke="#000" stroke-width="1.18" />
<line x1="1471.87" y1="522.7" x2="1471.87" y2="526.64" stroke="#000" stroke-width="1.18" />
<line x1="1483.74" y1="522.7" x2="1483.74" y2="526.64" stroke="#000" stroke-width="1.18" />
<line x1="1494.02" y1="522.7" x2="1494.02" y2="526.64" stroke="#000" stroke-width="1.18" />
<line x1="1503.09" y1="522.7" x2="1503.09" y2="526.64" stroke="#000" stroke-width="1.18" />
<line x1="1564.57" y1="522.7" x2="1564.57" y2="526.64" stroke="#000" stroke-width="1.18" />
<line x1="1595.79" y1="522.7" x2="1595.79" y2="526.64" stroke="#000" stroke-width="1.18" />
<line x1="1617.95" y1="522.7" x2="1617.95" y2="526.64" stroke="#000" stroke-width="1.18" />
<line x1="1635.13" y1="522.7" x2="1635.13" y2="526.64" stroke="#000" stroke-width="1.18" />
<text x="1180.3" y="581.8" font-size="19.7">Evolution time / <tspan font-family="'Liberation Serif','DejaVu Serif',serif" font-size="20.5">μ</tspan>s</text>
<text transform="translate(890.2,262) rotate(-90)" font-size="19.7" text-anchor="middle">Visibility</text>
<text x="833.6" y="33.4" font-size="42" font-weight="bold">b)</text>
<rect x="1028.1" y="221.7" width="321.5" height="233.3" fill="#fff"/>
<clipPath id="ci"><rect x="1028.1" y="221.7" width="321.5" height="234.8"/></clipPath>
<polyline points="1042.71,441.44 1045.17,442.81 1047.63,443.91 1050.08,444.75 1052.54,445.32 1054.99,445.62 1057.45,445.65 1059.91,445.42 1062.36,444.91 1064.82,444.13 1067.27,443.09 1069.73,441.79 1072.19,440.23 1074.64,438.42 1077.1,436.35 1079.55,434.04 1082.01,431.5 1084.47,428.72 1086.92,425.72 1089.38,422.51 1091.84,419.09 1094.29,415.48 1096.75,411.68 1099.2,407.7 1101.66,403.56 1104.12,399.27 1106.57,394.84 1109.03,390.28 1111.48,385.61 1113.94,380.83 1116.4,375.97 1118.85,371.02 1121.31,366.02 1123.76,360.97 1126.22,355.89 1128.68,350.78 1131.13,345.67 1133.59,340.57 1136.04,335.5 1138.5,330.46 1140.96,325.47 1143.41,320.54 1145.87,315.7 1148.32,310.95 1150.78,306.3 1153.24,301.78 1155.69,297.38 1158.15,293.13 1160.61,289.03 1163.06,285.1 1165.52,281.35 1167.97,277.79 1170.43,274.42 1172.89,271.26 1175.34,268.32 1177.8,265.6 1180.25,263.12 1182.71,260.87 1185.17,258.87 1187.62,257.12 1190.08,255.63 1192.53,254.4 1194.99,253.43 1197.45,252.72 1199.9,252.29 1202.36,252.12 1204.81,252.22 1207.27,252.59 1209.73,253.23 1212.18,254.14 1214.64,255.31 1217.09,256.74 1219.55,258.43 1222.01,260.37 1224.46,262.56 1226.92,264.99 1229.38,267.65 1231.83,270.54 1234.29,273.65 1236.74,276.96 1239.2,280.48 1241.66,284.19 1244.11,288.08 1246.57,292.14 1249.02,296.35 1251.48,300.71 1253.94,305.21 1256.39,309.83 1258.85,314.56 1261.3,319.38 1263.76,324.29 1266.22,329.26 1268.67,334.29 1271.13,339.36 1273.58,344.45 1276.04,349.56 1278.5,354.67 1280.95,359.76 1283.41,364.82 1285.86,369.83 1288.32,374.79 1290.78,379.68 1293.23,384.48 1295.69,389.18 1298.15,393.76 1300.6,398.23 1303.06,402.55 1305.51,406.73 1307.97,410.74 1310.43,414.58 1312.88,418.24 1315.34,421.71 1317.79,424.97 1320.25,428.02 1322.71,430.85 1325.16,433.46 1327.62,435.82 1330.07,437.95 1332.53,439.82 1334.99,441.44" fill="none" stroke="#1f77b4" stroke-width="1.7" stroke-linejoin="round"/>
<line x1="1042.71" y1="430.1" x2="1042.71" y2="455.7" stroke="#ff7f0e" stroke-width="1.6" clip-path="url(#ci)"/>
<line x1="1071.94" y1="425.8" x2="1071.94" y2="440.8" stroke="#ff7f0e" stroke-width="1.6" clip-path="url(#ci)"/>
<line x1="1101.17" y1="386" x2="1101.17" y2="413.2" stroke="#ff7f0e" stroke-width="1.6" clip-path="url(#ci)"/>
<line x1="1130.4" y1="354.5" x2="1130.4" y2="367.3" stroke="#ff7f0e" stroke-width="1.6" clip-path="url(#ci)"/>
<line x1="1159.62" y1="282.6" x2="1159.62" y2="307" stroke="#ff7f0e" stroke-width="1.6" clip-path="url(#ci)"/>
<line x1="1188.85" y1="245.3" x2="1188.85" y2="268.7" stroke="#ff7f0e" stroke-width="1.6" clip-path="url(#ci)"/>
<line x1="1218.08" y1="242.5" x2="1218.08" y2="264.9" stroke="#ff7f0e" stroke-width="1.6" clip-path="url(#ci)"/>
<line x1="1247.3" y1="280.1" x2="1247.3" y2="297.5" stroke="#ff7f0e" stroke-width="1.6" clip-path="url(#ci)"/>
<line x1="1276.53" y1="352.4" x2="1276.53" y2="366.4" stroke="#ff7f0e" stroke-width="1.6" clip-path="url(#ci)"/>
<line x1="1305.76" y1="407.7" x2="1305.76" y2="419.7" stroke="#ff7f0e" stroke-width="1.6" clip-path="url(#ci)"/>
<circle cx="1042.71" cy="442.9" r="4.92" fill="#ff7f0e"/>
<circle cx="1071.94" cy="433.3" r="4.92" fill="#ff7f0e"/>
<circle cx="1101.17" cy="399.6" r="4.92" fill="#ff7f0e"/>
<circle cx="1130.4" cy="360.9" r="4.92" fill="#ff7f0e"/>
<circle cx="1159.62" cy="294.8" r="4.92" fill="#ff7f0e"/>
<circle cx="1188.85" cy="257" r="4.92" fill="#ff7f0e"/>
<circle cx="1218.08" cy="253.7" r="4.92" fill="#ff7f0e"/>
<circle cx="1247.3" cy="288.8" r="4.92" fill="#ff7f0e"/>
<circle cx="1276.53" cy="359.4" r="4.92" fill="#ff7f0e"/>
<circle cx="1305.76" cy="413.7" r="4.92" fill="#ff7f0e"/>
<rect x="1028.1" y="221.7" width="321.5" height="233.3" fill="none" stroke="#6a6a6a" stroke-width="1.58"/>
<line x1="1024.5" y1="455" x2="1027.5" y2="455" stroke="#333" stroke-width="1" />
<text x="1021.7" y="460.5" font-size="15.76" text-anchor="end" >0.0</text>
<line x1="1024.5" y1="349" x2="1027.5" y2="349" stroke="#333" stroke-width="1" />
<text x="1021.7" y="354.5" font-size="15.76" text-anchor="end" >0.5</text>
<line x1="1024.5" y1="243" x2="1027.5" y2="243" stroke="#333" stroke-width="1" />
<text x="1021.7" y="248.5" font-size="15.76" text-anchor="end" >1.0</text>
<line x1="1042.71" y1="455.6" x2="1042.71" y2="458.6" stroke="#333" stroke-width="1" />
<text x="1042.71" y="472.9" font-size="15.76" text-anchor="middle" >0</text>
<line x1="1123.9" y1="455.6" x2="1123.9" y2="458.6" stroke="#333" stroke-width="1" />
<text x="1123.9" y="472.9" font-size="15.76" text-anchor="middle" >100</text>
<line x1="1205.09" y1="455.6" x2="1205.09" y2="458.6" stroke="#333" stroke-width="1" />
<text x="1205.09" y="472.9" font-size="15.76" text-anchor="middle" >200</text>
<line x1="1286.27" y1="455.6" x2="1286.27" y2="458.6" stroke="#333" stroke-width="1" />
<text x="1286.27" y="472.9" font-size="15.76" text-anchor="middle" >300</text>
<text x="1152.4" y="492.0" font-size="17">Δ<tspan font-style="italic">ϕ</tspan> / deg</text>
<text transform="translate(987.2,361.2) rotate(-90)" font-size="17"><tspan font-style="italic">P</tspan><tspan font-size="11.9" dy="3.5">bright</tspan></text>
<polygon points="1350.87,222.6 1404.02,125.96 1406.23,131.17 1410.7,110.8 1395.89,125.48 1401.48,124.56 1348.33,221.2" fill="#000" />
</g>
</svg>
</body></html>
